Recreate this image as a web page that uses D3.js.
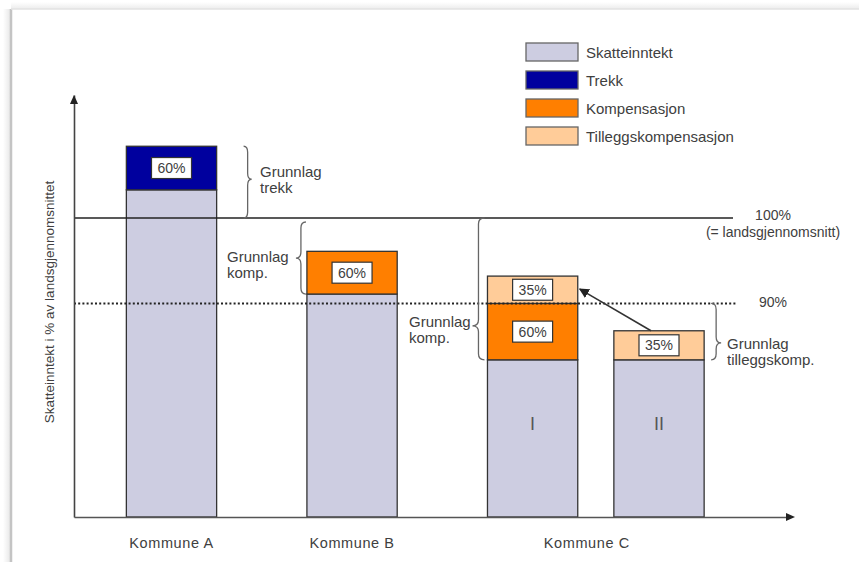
<!doctype html>
<html>
<head>
<meta charset="utf-8">
<script src="https://cdn.jsdelivr.net/npm/d3@7/dist/d3.min.js"></script>
<style>
  body { margin: 0; background: #fff; }
  svg text { font-family: "Liberation Sans", Arial, sans-serif; fill: #404040; }
</style>
</head>
<body>
<div id="chart"></div>
<script>
var w = 859, h = 562;

// one entry per bar: Kommune A, Kommune B, Kommune C (I), Kommune C (II)
var bars = ["A", "B", "C-I", "C-II"];
var barSlots = [0, 1, 2, 2.7];
var skatteinntekt = [103.3, 91.1, 83.4, 83.4];
var trekk = [5.1, 0, 0, 0];
var kompensasjon = [0, 5.0, 6.6, 0];
var tillegg = [0, 0, 3.2, 3.4];
var barNumerals = ["", "", "I", "II"];

var categories = ["Kommune A", "Kommune B", "Kommune C"];
var categorySlots = [0, 1, 2.3];

var series = ["Skatteinntekt", "Trekk", "Kompensasjon", "Tilleggskompensasjon"];
var seriesColors = ["#cdcde1", "#00009e", "#ff7f00", "#ffcc99"];
var segmentLabels = ["", "60%", "60%", "35%"];

var refValues = [100, 90];
var refLabels = [["100%", "(= landsgjennomsnitt)"], ["90%"]];

var yLabel = "Skatteinntekt i % av landsgjennomsnittet";

// scales (the axis doesn't start at zero - it's a schematic)
var axisX = 74, axisY = 517, axisTop = 95, axisRight = 795;
var y = d3.scaleLinear().domain([65, 114.4]).range([axisY, axisTop]).clamp(true);
var x = d3.scaleLinear().domain([0, 2.7]).range([171.5, 659]);
var barW = x(0.5) - x(0);

var rows = bars.map(function (b, i) {
    return {
        bar: b, slot: barSlots[i],
        "Skatteinntekt": skatteinntekt[i], "Trekk": trekk[i],
        "Kompensasjon": kompensasjon[i], "Tilleggskompensasjon": tillegg[i]
    };
});
var stacked = d3.stack().keys(series)(rows);

var svg = d3.select("#chart").append("svg")
    .attr("width", w)
    .attr("height", h);

// picture frame (scanned look)
var defs = svg.append("defs");
var g1 = defs.append("linearGradient").attr("id", "shadeL");
g1.append("stop").attr("offset", "0%").attr("stop-color", "#fff");
g1.append("stop").attr("offset", "100%").attr("stop-color", "#e6e6e6");
var g2 = defs.append("linearGradient").attr("id", "shadeT").attr("x1", 0).attr("x2", 0).attr("y1", 0).attr("y2", 1);
g2.append("stop").attr("offset", "0%").attr("stop-color", "#fff");
g2.append("stop").attr("offset", "100%").attr("stop-color", "#ececec");
svg.append("rect").attr("x", 3).attr("y", 9).attr("width", 8).attr("height", h - 9).attr("fill", "url(#shadeL)");
svg.append("rect").attr("x", 11).attr("y", 2).attr("width", w - 11).attr("height", 7).attr("fill", "url(#shadeT)");
svg.append("line").attr("x1", 11).attr("x2", 11).attr("y1", 9).attr("y2", h)
    .attr("stroke", "#c4c4c4").attr("stroke-width", 2.5);
svg.append("line").attr("x1", 11).attr("x2", w).attr("y1", 9).attr("y2", 9)
    .attr("stroke", "#e2e2e2").attr("stroke-width", 1.5);

defs.append("marker").attr("id", "arrowhead")
    .attr("viewBox", "0 0 10 10").attr("refX", 9).attr("refY", 5)
    .attr("markerWidth", 10).attr("markerHeight", 10)
    .attr("markerUnits", "userSpaceOnUse")
    .attr("orient", "auto")
    .append("path").attr("d", "M0,0L10,5L0,10z").attr("fill", "#222");

// bars
var segs = svg.append("g").selectAll("g")
    .data(stacked)
    .join("g")
    .attr("fill", function (d, i) { return seriesColors[i]; });

segs.selectAll("rect")
    .data(function (d) { return d.filter(function (e) { return e[1] - e[0] > 0; }); })
    .join("rect")
    .attr("x", function (d) { return x(d.data.slot) - barW / 2; })
    .attr("y", function (d) { return y(d[1]); })
    .attr("width", barW)
    .attr("height", function (d) { return y(d[0]) - y(d[1]); })
    .attr("stroke", "#333")
    .attr("stroke-width", 1.3);

// percent boxes inside the stacked segments
stacked.forEach(function (s, i) {
    if (!segmentLabels[i]) return;
    s.filter(function (e) { return e[1] - e[0] > 0; }).forEach(function (e) {
        var cx = x(e.data.slot), cy = (y(e[0]) + y(e[1])) / 2;
        svg.append("rect")
            .attr("x", cx - 20).attr("y", cy - 10.5)
            .attr("width", 40).attr("height", 21)
            .attr("fill", "#fff").attr("stroke", "#333").attr("stroke-width", 1.2);
        svg.append("text")
            .attr("x", cx).attr("y", cy + 5)
            .attr("text-anchor", "middle")
            .style("font-size", "14px")
            .text(segmentLabels[i]);
    });
});

// roman numerals on Kommune C bars
svg.selectAll(".numeral")
    .data(barNumerals.map(function (n, i) { return { n: n, slot: barSlots[i] }; }).filter(function (d) { return d.n; }))
    .join("text")
    .attr("class", "numeral")
    .attr("x", function (d) { return x(d.slot); })
    .attr("y", 430)
    .attr("text-anchor", "middle")
    .style("font-size", "18px")
    .style("fill", "#555")
    .text(function (d) { return d.n; });

// reference lines
var lineEnd = [733, 737];
svg.selectAll(".ref")
    .data(refValues)
    .join("line")
    .attr("class", "ref")
    .attr("x1", axisX)
    .attr("x2", function (d, i) { return lineEnd[i]; })
    .attr("y1", function (d) { return y(d); })
    .attr("y2", function (d) { return y(d); })
    .attr("stroke", "#222")
    .attr("stroke-width", function (d, i) { return i ? 2 : 1.6; })
    .attr("stroke-dasharray", function (d, i) { return i ? "2,2.2" : null; });

refValues.forEach(function (v, i) {
    refLabels[i].forEach(function (t, j) {
        svg.append("text")
            .attr("x", 773)
            .attr("y", y(v) + (i ? 4 : 2) + j * 17)
            .attr("text-anchor", "middle")
            .style("font-size", "14px")
            .text(t);
    });
});

// axes without ticks, arrows at the ends
var yAxis = d3.axisLeft(y).tickValues([]).tickSizeOuter(0);
svg.append("g")
    .attr("transform", "translate(" + axisX + ",0)")
    .call(yAxis)
    .select(".domain").attr("stroke", "#444").attr("stroke-width", 1.6);

var xAxisScale = x.copy().domain([x.invert(axisX), x.invert(axisRight - 6)]).range([axisX, axisRight - 6]);
svg.append("g")
    .attr("transform", "translate(0," + axisY + ")")
    .call(d3.axisBottom(xAxisScale).tickValues([]).tickSizeOuter(0))
    .select(".domain").attr("stroke", "#555").attr("stroke-width", 1.6);

svg.append("path")
    .attr("d", "M" + axisX + "," + axisTop + "l-4,9h8z")
    .attr("fill", "#222");
svg.append("path")
    .attr("d", "M" + axisRight + "," + axisY + "l-9,-4v8z")
    .attr("fill", "#222");

// category labels
svg.selectAll(".cat")
    .data(categories)
    .join("text")
    .attr("class", "cat")
    .attr("x", function (d, i) { return x(categorySlots[i]); })
    .attr("y", 548)
    .attr("text-anchor", "middle")
    .style("font-size", "14.5px")
    .style("letter-spacing", "0.6px")
    .text(function (d) { return d; });

// y axis title
svg.append("text")
    .attr("text-anchor", "middle")
    .attr("transform", "translate(54,302)rotate(-90)")
    .style("font-size", "13.5px")
    .text(yLabel);

// curly braces with notes
function bracePath(x0, y1, y2, dir, depth, t) {
    var r = Math.min(6, (y2 - y1) / 6);
    var xm = x0 + dir * depth / 2;
    var xt = x0 + dir * depth;
    var ym = y1 + (y2 - y1) * t;
    return "M" + x0 + "," + y1 +
        "Q" + xm + "," + y1 + " " + xm + "," + (y1 + r) +
        "L" + xm + "," + (ym - r) +
        "Q" + xm + "," + ym + " " + xt + "," + ym +
        "Q" + xm + "," + ym + " " + xm + "," + (ym + r) +
        "L" + xm + "," + (y2 - r) +
        "Q" + xm + "," + y2 + " " + x0 + "," + y2;
}

var braces = [
    { x0: x(0) + barW / 2 + 27, y1: y(skatteinntekt[0] + trekk[0]), y2: y(100), dir: 1, depth: 8, t: 0.46,
      lines: ["Grunnlag", "trekk"], tx: 260, ty: 177 },
    { x0: x(1) - barW / 2 - 1, y1: y(100) + 4, y2: y(skatteinntekt[1]), dir: -1, depth: 10, t: 0.5,
      lines: ["Grunnlag", "komp."], tx: 227, ty: 262 },
    { x0: x(2) - barW / 2 - 3, y1: y(100), y2: y(skatteinntekt[2]), dir: -1, depth: 12, t: 0.76,
      lines: ["Grunnlag", "komp."], tx: 409, ty: 327 },
    { x0: x(2.7) + barW / 2 + 7, y1: y(90), y2: y(skatteinntekt[3]), dir: 1, depth: 10, t: 0.7,
      lines: ["Grunnlag", "tilleggskomp."], tx: 727, ty: 349 }
];

braces.forEach(function (b) {
    svg.append("path")
        .attr("d", bracePath(b.x0, b.y1, b.y2, b.dir, b.depth, b.t))
        .attr("fill", "none")
        .attr("stroke", "#666")
        .attr("stroke-width", 1.3);
    b.lines.forEach(function (t, j) {
        svg.append("text")
            .attr("x", b.tx)
            .attr("y", b.ty + j * 16)
            .style("font-size", "15px")
            .text(t);
    });
});

// arrow from C-II top-up to C-I top-up
svg.append("line")
    .attr("x1", x(2.7) - 8)
    .attr("y1", y(skatteinntekt[3] + tillegg[3]))
    .attr("x2", x(2) + barW / 2 + 2)
    .attr("y2", y(skatteinntekt[2] + kompensasjon[2] + tillegg[2]) + 13)
    .attr("stroke", "#333")
    .attr("stroke-width", 1.6)
    .attr("marker-end", "url(#arrowhead)");

// legend
var legend = svg.append("g").selectAll("g")
    .data(series)
    .join("g")
    .attr("transform", function (d, i) { return "translate(526," + (43 + i * 28) + ")"; });
legend.append("rect")
    .attr("width", 52).attr("height", 18)
    .attr("fill", function (d, i) { return seriesColors[i]; })
    .attr("stroke", "#666").attr("stroke-width", 1.3);
legend.append("text")
    .attr("x", 60).attr("y", 15)
    .style("font-size", "15px")
    .text(function (d) { return d; });
</script>
</body>
</html>
